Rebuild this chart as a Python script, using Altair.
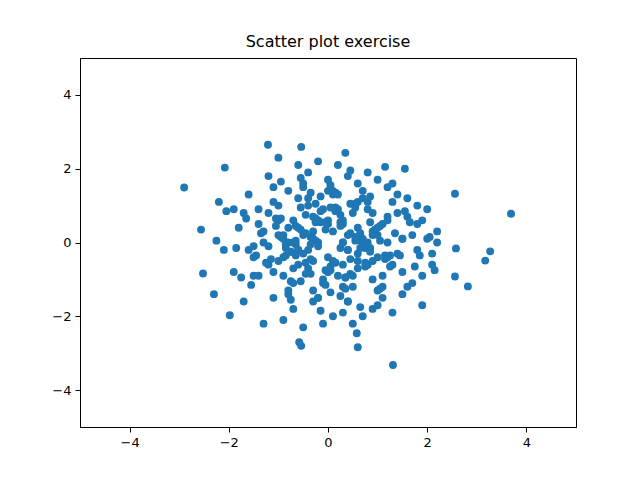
import altair as alt
import pandas as pd

# values (outer points read off, core approximated)
xs = [-2.9, 3.69, 1.31, -1.21, -0.54, -0.58, 3.27, 3.17, 2.82, 2.56, -1.98, -2.56, -2.52, -2.08, 0.58, 0.6, 1.15, 1.55, 0.35, -0.54, 2.58, 2.56,
      -2.3, -2.2, -1.9, -1.7, -1.6, -1.5, -1.4, -1.3, -1.2, -1.1, -1.0, -0.9, -0.8, -0.7, -0.6, -0.5, -0.4, -0.3, -0.2, -0.1, 0.0, 0.1, 0.2, 0.3,
      0.4, 0.5, 0.6, 0.7, 0.8, 0.9, 1.0, 1.1, 1.2, 1.3, 1.4, 1.5, 1.6, 1.7, 1.8, 1.9, 2.0, 2.1, 2.2,
      -1.8, -1.5, -1.2, -0.9, -0.6, -0.3, 0.0, 0.3, 0.6, 0.9, 1.2, 1.5, 1.8, 2.1,
      -1.6, -1.3, -1.0, -0.7, -0.4, -0.1, 0.2, 0.5, 0.8, 1.1, 1.4, 1.7, 2.0,
      -1.4, -1.1, -0.8, -0.5, -0.2, 0.1, 0.4, 0.7, 1.0, 1.3, 1.6,
      -1.2, -0.9, -0.6, -0.3, 0.0, 0.3, 0.6, 0.9, 1.2, 1.5,
      -1.0, -0.7, -0.4, -0.1, 0.2, 0.5, 0.8, 1.1,
      -0.8, -0.5, -0.2, 0.1, 0.4, 0.7, 1.0,
      -0.6, -0.3, 0.0, 0.3, 0.6, 0.9,
      -1.1, -0.8, -0.5, -0.2, 0.1, 0.4, 0.7, 1.0, 1.3,
      -0.9, -0.6, -0.3, 0.0, 0.3, 0.6, 0.9, 1.2,
      -1.3, -1.0, -0.7, -0.4, -0.1, 0.2, 0.5, 0.8, 1.1, 1.4,
      -1.5, -1.2, -0.9, -0.6, -0.3, 0.0, 0.3, 0.6, 0.9, 1.2, 1.5, 1.8,
      -1.7, -1.4, -1.1, -0.8, -0.5, -0.2, 0.1, 0.4, 0.7, 1.0, 1.3, 1.6, 1.9,
      -0.7, -0.2, 0.3, 0.8, -1.0, 1.0, -0.4, 0.4, 0.0, -1.9, 1.9, -2.1, 2.2,
      -0.95, -0.75, -0.55, -0.35, -0.15, 0.05, 0.25, 0.45, 0.65, 0.85, 1.05, 1.25,
      -0.85, -0.65, -0.45, -0.25, -0.05, 0.15, 0.35, 0.55, 0.75, 0.95, 1.15,
      -1.05, -0.85, -0.65, -0.45, -0.25, -0.05, 0.15, 0.35, 0.55, 0.75, 0.95,
      -0.75, -0.55, -0.35, -0.15, 0.05, 0.25, 0.45, 0.65, 0.85,
      -1.25, -1.05, -0.85, -0.65, -0.45, -0.25, -0.05, 0.15, 0.35, 0.55, 0.75, 0.95, 1.15, 1.35,
      -0.95, -0.75, -0.55, -0.35, -0.15, 0.05, 0.25, 0.45, 0.65, 0.85, 1.05,
      -1.35, -1.15, -0.95, -0.75, -0.55, -0.35, -0.15, 0.05, 0.25, 0.45, 0.65, 0.85, 1.05, 1.25, 1.45,
      -1.65, -1.45, -1.85, 1.65, 1.85, 2.05, -2.05, -1.75, 1.75, -1.55, 1.55, -2.25, 2.15,
      -0.65, -0.35, -0.05, 0.25, 0.55, -0.45, 0.15, 0.45, -0.25, 0.05]
ys = [1.49, 0.78, -3.32, 2.65, -2.8, -2.7, -0.24, -0.49, -1.19, 1.32, -1.97, 0.35, -0.84, 2.03, -2.46, -2.84, 2.05, 2.0, 2.43, 2.59, -0.16, -0.92,
      -1.4, 1.1, 0.9, -1.6, 1.3, -0.9, 0.5, -2.2, 1.8, -1.5, 2.3, -2.1, 1.4, -1.8, 2.1, -2.3, 1.9, -1.6, 2.2, -2.2, 1.7, -2.0, 2.1, -1.9,
      1.8, -2.2, 1.6, -2.0, 1.9, -1.8, 1.7, -1.5, 1.5, -1.9, 1.3, -1.4, 1.2, -1.1, 1.0, -1.7, 0.9, -0.6, 0.3,
      0.4, -0.4, 0.8, -0.9, 1.2, -1.3, 1.4, -1.2, 1.1, -1.0, 0.7, -0.8, 0.5, -0.3,
      -0.2, 0.3, -0.5, 0.6, -0.7, 0.9, -0.9, 0.8, -0.6, 0.5, -0.3, 0.2, 0.1,
      0.9, -0.8, 0.4, -0.3, 0.6, -0.5, 0.2, -0.1, 0.4, -0.6, 0.7,
      -0.1, 0.2, -0.2, 0.1, -0.4, 0.5, -0.3, 0.3, 0.0, 0.1,
      1.0, -1.1, 1.2, -1.0, 1.3, -1.2, 0.9, -0.9,
      0.0, 0.2, -0.1, 0.3, -0.2, 0.1, -0.4,
      -0.6, 0.7, -0.8, 0.6, -0.7, 0.8,
      1.5, -1.4, 1.6, -1.5, 1.4, -1.6, 1.2, -1.3, 1.1,
      -0.4, 0.4, -0.5, 0.5, -0.6, 0.4, -0.5, 0.6,
      0.0, 0.6, -0.7, 1.0, -1.1, 0.9, -0.9, 1.1, -1.2, 0.8,
      -0.1, -0.6, 0.1, -0.2, 0.3, -0.8, 0.0, -0.5, 0.2, -0.4, 0.1, -0.2,
      0.8, -0.9, 1.1, -1.3, 1.5, -1.5, 1.3, -1.6, 1.4, -1.7, 1.6, -1.2, 0.6,
      0.0, 0.0, 0.0, 0.0, 0.2, 0.2, -0.2, -0.2, 0.6, -0.8, -0.9, -0.2, 0.0,
      0.15, -0.25, 0.35, -0.45, 0.55, -0.65, 0.75, -0.85, 0.25, -0.15, 0.45, -0.35,
      -0.05, 0.45, -0.55, 0.65, -0.75, 0.85, -0.95, 1.05, -0.15, 0.25, -0.35,
      0.65, -0.35, -0.05, 0.25, 1.05, -1.15, 1.35, -1.25, 0.95, -0.55, 0.35,
      -1.05, 0.95, -0.85, 1.25, -1.35, 0.55, -0.45, 0.05, -0.25,
      -0.55, 0.45, -0.15, -0.35, 0.75, 0.05, 0.55, 0.95, -0.95, 0.15, -0.65, 0.35, -0.45, 0.25,
      1.65, -1.55, 1.75, 1.35, -1.85, 1.55, -1.45, 1.95, -1.75, 1.25, -1.25,
      0.25, -0.45, 0.65, -0.25, -1.05, 0.15, 0.85, -0.75, 0.45, 1.05, -0.15, 0.55, 0.05, -0.65, -0.35,
      0.65, -0.35, -0.15, 0.55, -0.35, 0.15, 0.85, -0.95, -0.65, -1.15, 0.85, 0.05, -0.75,
      0.05, -0.05, 0.35, -0.15, 0.05, -0.85, -0.55, 0.25, 0.55, 0.95]

n = min(len(xs), len(ys))
df = pd.DataFrame({"x": xs[:n], "y": ys[:n]})

ax = alt.Axis(values=[-4, -2, 0, 2, 4], grid=False, title=None, domainColor="black",
              tickColor="black", labelColor="black", labelFontSize=13, tickSize=5,
              labelFont="DejaVu Sans", labelPadding=4)

chart = (
    alt.Chart(df)
    .mark_circle(size=62, color="#1f77b4", opacity=1)
    .encode(
        x=alt.X("x:Q", scale=alt.Scale(domain=[-5, 5], nice=False), axis=ax),
        y=alt.Y("y:Q", scale=alt.Scale(domain=[-5, 5], nice=False), axis=ax),
    )
    .properties(
        width=496, height=369,
        title=alt.TitleParams("Scatter plot exercise", fontSize=16, fontWeight="normal",
                              font="DejaVu Sans", offset=8),
        autosize=alt.AutoSizeParams(type="none"),
        padding={"left": 72, "top": 50, "right": 56, "bottom": 45},
    )
    .configure_view(stroke="black", strokeWidth=1)
)

chart.save("out.html", embed_options={"renderer": "svg", "actions": False})
